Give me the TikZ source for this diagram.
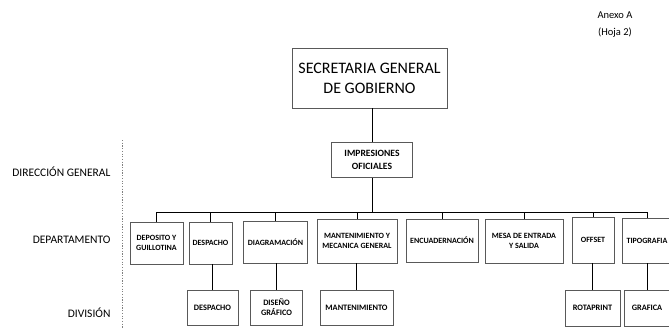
\documentclass[tikz,border=0pt]{standalone}
\usepackage{fontspec}
\setmainfont{Carlito}
\begin{document}
\begin{tikzpicture}[x=1pt,y=-1pt,
  box/.style={draw=black!65, line width=0.8pt, rectangle, inner sep=1pt, align=center, font=\bfseries\fontsize{8}{10}\selectfont},
  divbox/.style={box, font=\bfseries\fontsize{8.3}{10}\selectfont},
  lvl/.style={anchor=east, font=\fontsize{11.5}{13}\selectfont},
  conn/.style={draw=black, line width=0.7pt}]
\fill[white] (0,0) rectangle (669,329);
\useasboundingbox (0,0) rectangle (669,329);
\begin{scope}
\clip (0,0) rectangle (669,329);
% annex
\node[align=center, font=\fontsize{10.5}{17}\selectfont] (anexo) at (615,25) {Anexo A\\(Hoja 2)};
% level labels
\node[lvl] (lDG) at (114,172) {DIRECCIÓN GENERAL};
\node[lvl] (lDep) at (114,240) {DEPARTAMENTO};
\node[lvl] (lDiv) at (114,313) {DIVISIÓN};
\draw[gray, line width=0.6pt, dash pattern=on 1.2pt off 1.5pt] (122,140) -- (122,329);
% top
\node[box, minimum width=155pt, minimum height=60pt, font=\fontsize{16}{20}\selectfont] (sgg) at (369.5,78) {SECRETARIA GENERAL\\DE GOBIERNO};
\node[box, minimum width=81pt, minimum height=35pt, font=\bfseries\fontsize{9.6}{13}\selectfont] (imp) at (372,160) {IMPRESIONES\\OFICIALES};
% departments
\node[box, minimum width=53pt, minimum height=42pt] (d1) at (156.5,243) {DEPOSITO Y\\GUILLOTINA};
\node[box, minimum width=43pt, minimum height=42pt] (d2) at (210.5,243) {DESPACHO};
\node[box, minimum width=64pt, minimum height=42pt] (d3) at (275.5,242) {DIAGRAMACIÓN};
\node[box, minimum width=80pt, minimum height=44pt] (d4) at (357,241) {MANTENIMIENTO Y\\MECANICA GENERAL};
\node[box, minimum width=72pt, minimum height=43pt] (d5) at (442,240.5) {ENCUADERNACIÓN};
\node[box, minimum width=78pt, minimum height=44pt] (d6) at (524,241) {MESA DE ENTRADA\\Y SALIDA};
\node[box, minimum width=42pt, minimum height=46pt] (d7) at (593,240) {OFFSET};
\node[box, minimum width=50pt, minimum height=45pt] (d8) at (647,240.5) {TIPOGRAFIA};
% divisions
\node[divbox, minimum width=51pt, minimum height=35pt] (v1) at (212.5,307.5) {DESPACHO};
\node[divbox, minimum width=52pt, minimum height=35pt] (v2) at (276.5,307.5) {DISEÑO\\GRÁFICO};
\node[divbox, minimum width=73pt, minimum height=35pt] (v3) at (356.5,307.5) {MANTENIMIENTO};
\node[divbox, minimum width=55pt, minimum height=36pt] (v4) at (592.5,308) {ROTAPRINT};
\node[divbox, minimum width=46pt, minimum height=36pt] (v5) at (647,308) {GRAFICA};
% connectors
\coordinate (bus) at (372,212);
\draw[conn] (imp.north) -- (imp.north |- sgg.south);
\draw[conn] (imp.south) -- (bus);
\draw[conn] (d1.north |- bus) -- (d8.north |- bus);
\foreach \d in {d1,d2,d3,d4,d5,d6,d7,d8} {
  \draw[conn] (\d.north) -- (\d.north |- bus);
}
\draw[conn] (v1.north) -- (v1.north |- d2.south);
\draw[conn] (v2.north) -- (v2.north |- d3.south);
\draw[conn] (v3.north) -- (v3.north |- d4.south);
\draw[conn] (v4.north) -- (v4.north |- d7.south);
\draw[conn] (v5.north) -- (v5.north |- d8.south);
\end{scope}
\end{tikzpicture}
\end{document}
